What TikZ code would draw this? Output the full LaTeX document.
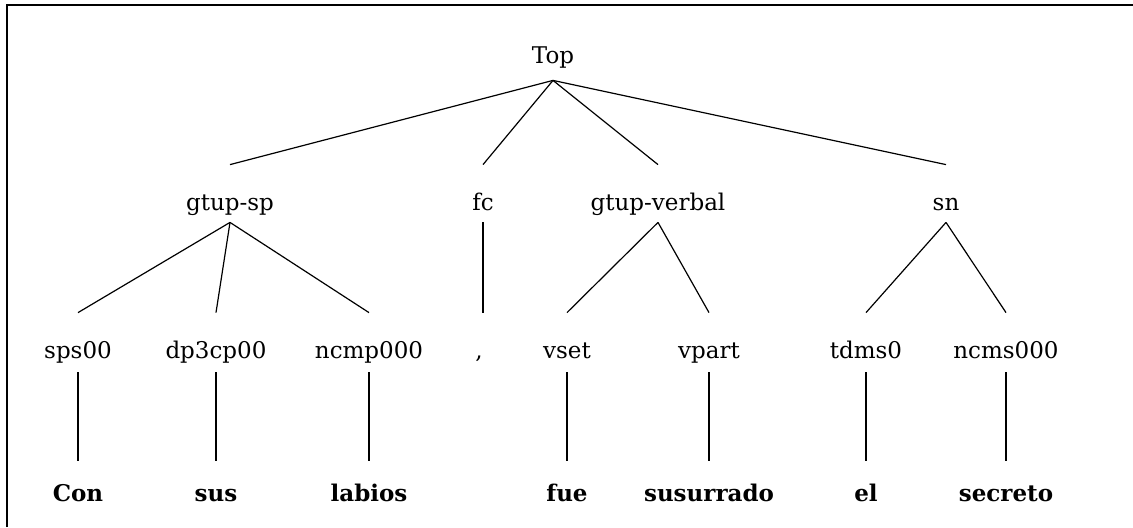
\documentclass[tikz,border=0pt]{standalone}
\usepackage{fontspec}
\setmainfont{DejaVu Serif}

\begin{document}
\begin{tikzpicture}[x=0.5pt,y=-0.5pt,
    tag/.style={anchor=base,inner sep=0pt,font=\fontsize{11.5}{13}\selectfont},
    roottag/.style={tag,text depth=8.5pt},
    phrase/.style={tag,text height=22.5pt,text depth=6pt},
    postag/.style={tag,text height=22.5pt,text depth=7pt},
    word/.style={anchor=base,inner sep=0pt,text height=20pt,font=\fontsize{11.5}{13}\selectfont\bfseries},
    edge/.style={line width=0.6pt}]
  \useasboundingbox (0,0) rectangle (1133,527);
  \draw[line width=1pt] (7,527) -- (7,5) -- (1133,5);

      \node[roottag] (top) at (553,63) {Top};

      \node[phrase] (gsp) at (230,210) {gtup-sp};
      \node[phrase] (fc) at (483,210) {fc};
      \node[phrase] (gverb) at (658,210) {gtup-verbal};
      \node[phrase] (sn) at (946,210) {sn};

      \node[postag] (sps) at (78,358) {sps00};
      \node[postag] (dp) at (216,358) {dp3cp00};
      \node[postag] (ncmp) at (369,358) {ncmp000};
      \node[postag] (comma) at (479,358) {,};
      \node[postag] (vset) at (567,358) {vset};
      \node[postag] (vpart) at (709,358) {vpart};
      \node[postag] (tdms) at (866,358) {tdms0};
      \node[postag] (ncms) at (1006,358) {ncms000};

      \node[word] (con) at (78,501) {Con};
      \node[word] (sus) at (216,501) {sus};
      \node[word] (labios) at (369,501) {labios};
      \node[word] (fue) at (567,501) {fue};
      \node[word] (susurrado) at (709,501) {susurrado};
      \node[word] (el) at (866,501) {el};
      \node[word] (secreto) at (1006,501) {secreto};

    \draw[edge] (top.south) -- (gsp.north);
    \draw[edge] (top.south) -- (fc.north);
    \draw[edge] (top.south) -- (gverb.north);
    \draw[edge] (top.south) -- (sn.north);
   \draw[edge] (gsp.south) -- (sps.north);
   \draw[edge] (gsp.south) -- (dp.north);
   \draw[edge] (gsp.south) -- (ncmp.north);
   \draw[edge] (fc.south) -- (fc.south |- comma.north);
   \draw[edge] (gverb.south) -- (vset.north);
   \draw[edge] (gverb.south) -- (vpart.north);
   \draw[edge] (sn.south) -- (tdms.north);
   \draw[edge] (sn.south) -- (ncms.north);
  \draw[edge] (sps.south) -- (con.north);
  \draw[edge] (dp.south) -- (sus.north);
  \draw[edge] (ncmp.south) -- (labios.north);
  \draw[edge] (vset.south) -- (fue.north);
  \draw[edge] (vpart.south) -- (susurrado.north);
  \draw[edge] (tdms.south) -- (el.north);
  \draw[edge] (ncms.south) -- (secreto.north);
\end{tikzpicture}
\end{document}
